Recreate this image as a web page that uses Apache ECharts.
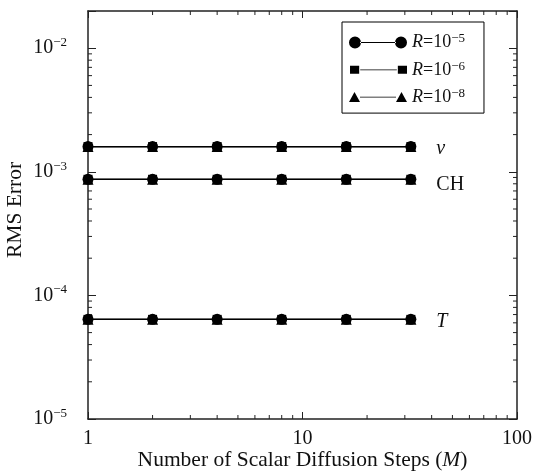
<!DOCTYPE html>
<html><head><meta charset="utf-8">
<script src="https://cdn.jsdelivr.net/npm/echarts@6/dist/echarts.min.js"></script>
<style>html,body{margin:0;padding:0;background:#fff}#c{width:535px;height:476px}</style>
</head><body><div id="c"></div>
<script>
// ---- data ----
const steps = [1, 2, 4, 8, 16, 32];
const seriesNames = ['R=10-5', 'R=10-6', 'R=10-8'];
const seriesExps = ['\u22125', '\u22126', '\u22128'];
const curveNames = ['\u03bd', 'CH', 'T'];
// R = 1e-5
const nu_R5 = [1.60e-3, 1.60e-3, 1.60e-3, 1.60e-3, 1.60e-3, 1.60e-3];
const ch_R5 = [8.7e-4, 8.7e-4, 8.7e-4, 8.7e-4, 8.7e-4, 8.7e-4];
const t_R5  = [6.4e-5, 6.4e-5, 6.4e-5, 6.4e-5, 6.4e-5, 6.4e-5];
// R = 1e-6
const nu_R6 = [1.60e-3, 1.60e-3, 1.60e-3, 1.60e-3, 1.60e-3, 1.60e-3];
const ch_R6 = [8.7e-4, 8.7e-4, 8.7e-4, 8.7e-4, 8.7e-4, 8.7e-4];
const t_R6  = [6.4e-5, 6.4e-5, 6.4e-5, 6.4e-5, 6.4e-5, 6.4e-5];
// R = 1e-8
const nu_R8 = [1.60e-3, 1.60e-3, 1.60e-3, 1.60e-3, 1.60e-3, 1.60e-3];
const ch_R8 = [8.7e-4, 8.7e-4, 8.7e-4, 8.7e-4, 8.7e-4, 8.7e-4];
const t_R8  = [6.4e-5, 6.4e-5, 6.4e-5, 6.4e-5, 6.4e-5, 6.4e-5];
// axes
const xMin = 1, xMax = 100;
const yMin = 1e-5, yMax = 0.02;
const minorMult = [2, 3, 4, 5, 6, 7, 8, 9];
const xDecades = [1, 10];
const yDecades = [1e-5, 1e-4, 1e-3, 1e-2];

// ---- styles ----
const FONT = 'Liberation Serif';
const INK = '#111';
const groups = [
  {name: seriesNames[0], curves: [nu_R5, ch_R5, t_R5], symbol: 'circle', size: 11},
  {name: seriesNames[1], curves: [nu_R6, ch_R6, t_R6], symbol: 'rect', size: 9},
  {name: seriesNames[2], curves: [nu_R8, ch_R8, t_R8], symbol: 'triangle', size: 11}
];
const labelOffsets = [[0, 2], [0, 5], [0, 2]];
const labelRich = {
  it: {fontFamily: FONT, fontStyle: 'italic', fontSize: 20, color: INK},
  n: {fontFamily: FONT, fontSize: 20, color: INK}
};
const curveLabelText = ['{it|\u03bd}', '{n|CH}', '{it|T}'];

const series = [];
// draw triangles first, squares, then circles on top
[2, 1, 0].forEach(gi => {
  const g = groups[gi];
  g.curves.forEach((arr, ci) => {
    const data = steps.map((s, i) => {
      const item = {value: [s, arr[i]]};
      if (gi === 0 && i === steps.length - 1) {
        item.label = {
          show: true, position: 'right', distance: 20, offset: labelOffsets[ci],
          formatter: curveLabelText[ci], rich: labelRich
        };
      }
      return item;
    });
    series.push({
      name: g.name, type: 'line', data: data,
      symbol: g.symbol, symbolSize: g.size, showSymbol: true,
      clip: false, z: 3,
      itemStyle: {color: '#000', borderWidth: 0},
      lineStyle: {color: '#000', width: 1.2},
      label: {show: false},
      emphasis: {disabled: true}
    });
  });
});

// minor ticks (drawn through the axes' scales)
const xMinorVals = [];
xDecades.forEach(d => minorMult.forEach(m => xMinorVals.push(d * m)));
const yMinorVals = [];
yDecades.forEach(d => minorMult.forEach(m => { if (d * m < yMax) yMinorVals.push(d * m); }));
const tickStyle = {stroke: '#222', lineWidth: 1};
series.push({
  type: 'custom', name: 'xminor', silent: true, clip: false, z: 2,
  data: xMinorVals.map(v => [v, yMin]),
  renderItem: (params, api) => {
    const v = api.value(0);
    const b = api.coord([v, yMin]);
    const t = api.coord([v, yMax]);
    return {type: 'group', children: [
      {type: 'line', shape: {x1: b[0], y1: b[1], x2: b[0], y2: b[1] - 4}, style: tickStyle},
      {type: 'line', shape: {x1: t[0], y1: t[1], x2: t[0], y2: t[1] + 4}, style: tickStyle}
    ]};
  }
});
series.push({
  type: 'custom', name: 'yminor', silent: true, clip: false, z: 2,
  data: yMinorVals.map(v => [xMin, v]),
  renderItem: (params, api) => {
    const v = api.value(1);
    const l = api.coord([xMin, v]);
    const r = api.coord([xMax, v]);
    return {type: 'group', children: [
      {type: 'line', shape: {x1: l[0], y1: l[1], x2: l[0] + 4, y2: l[1]}, style: tickStyle},
      {type: 'line', shape: {x1: r[0], y1: r[1], x2: r[0] - 4, y2: r[1]}, style: tickStyle}
    ]};
  }
});

// legend icons (58 x 12 box), tiny specks fix the bounding box
const speck = 'M0,0 L0.01,0 L0.01,0.01 Z M0,11.99 L0.01,11.99 L0.01,12 Z ';
const lineBar = 'M11,5.6 L47,5.6 L47,6.4 L11,6.4 Z ';
const icons = [
  'path://' + speck + 'M0,6 A6,6 0 1,0 12,6 A6,6 0 1,0 0,6 Z ' + lineBar + 'M46,6 A6,6 0 1,0 58,6 A6,6 0 1,0 46,6 Z',
  'path://' + speck + 'M1,2 L10,2 L10,10 L1,10 Z ' + lineBar + 'M48,2 L57,2 L57,10 L48,10 Z',
  'path://' + speck + 'M0,11 L5.5,1 L11,11 Z ' + lineBar + 'M47,11 L52.5,1 L58,11 Z'
];

const axisLine = {show: true, lineStyle: {color: '#222', width: 1.5}};
const option = {
  animation: false,
  backgroundColor: '#fff',
  grid: {left: 88, top: 11, width: 429, height: 408, containLabel: false, outerBoundsMode: 'none'},
  legend: {
    orient: 'vertical', left: 342, top: 22,
    backgroundColor: '#fff', borderColor: '#000', borderWidth: 1,
    padding: [10.5, 19, 7, 7],
    itemWidth: 58, itemHeight: 12, itemGap: 8.3,
    symbolKeepAspect: false,
    itemStyle: {color: '#000', borderWidth: 0},
    data: seriesNames.map((n, i) => ({name: n, icon: icons[i]})),
    formatter: name => '{i|R}{n|=10}{s|' + seriesExps[seriesNames.indexOf(name)] + '}',
    textStyle: {
      color: INK, fontFamily: FONT, fontSize: 18,
      rich: {
        i: {fontFamily: FONT, fontStyle: 'italic', fontSize: 18, color: INK, lineHeight: 20},
        n: {fontFamily: FONT, fontSize: 18, color: INK, lineHeight: 20},
        s: {fontFamily: FONT, fontSize: 13, color: INK, verticalAlign: 'top', lineHeight: 12}
      }
    },
    selectedMode: false
  },
  xAxis: [{
    type: 'log', logBase: 10, min: xMin, max: xMax, position: 'bottom',
    axisLine: axisLine,
    axisTick: {show: true, inside: true, length: 7, lineStyle: {color: '#222'}},
    splitLine: {show: false},
    axisLabel: {color: INK, fontFamily: FONT, fontSize: 20, margin: 10},
    name: '{n|Number of Scalar Diffusion Steps (}{i|M}{n|)}',
    nameLocation: 'middle', nameGap: 30, nameMoveOverlap: false,
    nameTextStyle: {
      rich: {
        n: {fontFamily: FONT, fontSize: 21.5, color: INK},
        i: {fontFamily: FONT, fontSize: 21.5, fontStyle: 'italic', color: INK}
      }
    }
  }, {
    type: 'log', logBase: 10, min: xMin, max: xMax, position: 'top',
    axisLine: axisLine,
    axisTick: {show: true, inside: true, length: 7, lineStyle: {color: '#222'}},
    axisLabel: {show: false}, splitLine: {show: false}
  }],
  yAxis: [{
    type: 'log', logBase: 10, min: yMin, max: yMax, position: 'left',
    axisLine: axisLine,
    axisTick: {show: true, inside: true, length: 8, lineStyle: {color: '#222'}},
    splitLine: {show: false},
    axisLabel: {
      margin: 21,
      formatter: v => {
        const e = Math.log10(v);
        if (Math.abs(e - Math.round(e)) > 1e-6) return '';
        return '{b|10}{s|\u2212' + Math.abs(Math.round(e)) + '}';
      },
      rich: {
        b: {fontFamily: FONT, fontSize: 20, color: INK, lineHeight: 24},
        s: {fontFamily: FONT, fontSize: 13, color: INK, verticalAlign: 'top', lineHeight: 13}
      }
    },
    name: 'RMS Error', nameLocation: 'middle', nameGap: 62, nameMoveOverlap: false,
    nameTextStyle: {fontFamily: FONT, fontSize: 21.5, color: INK, padding: [0, 0, 0, 10]}
  }, {
    type: 'log', logBase: 10, min: yMin, max: yMax, position: 'right',
    axisLine: axisLine,
    axisTick: {show: true, inside: true, length: 8, lineStyle: {color: '#222'}},
    axisLabel: {show: false}, splitLine: {show: false}
  }],
  series: series
};
const chart = echarts.init(document.getElementById('c'), null, {renderer: 'canvas'});
chart.setOption(option);
</script>
</body></html>
